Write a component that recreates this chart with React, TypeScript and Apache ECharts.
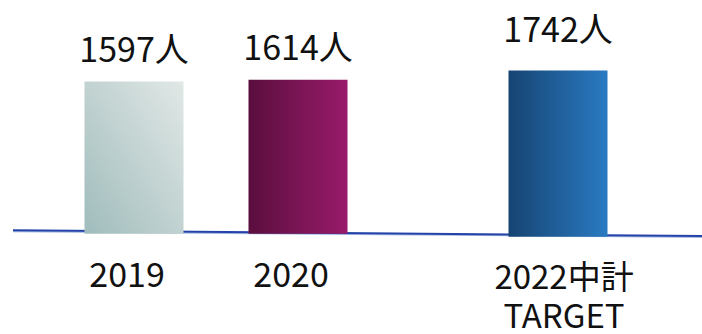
import React, { useEffect, useRef } from "react";
import * as echarts from "echarts";

const actualCategories = ["2019", "2020"];
const actualValues = [1597, 1614];
const targetCategories = ["2022中計\nTARGET"];
const targetValues = [1742];
const unit = "人";

const FONT = '"Noto Sans CJK JP", "Noto Sans", sans-serif';

export default function App() {
  const ref = useRef<HTMLDivElement>(null);
  useEffect(() => {
    if (!ref.current) return;
    const chart = echarts.init(ref.current, null, { renderer: "svg" });
    const labelCommon = {
      show: true,
      position: "top",
      fontFamily: FONT,
      fontSize: 34,
      lineHeight: 34,
      color: "#111",
      formatter: (p: any) => `${p.value}${unit}`,
    };
    const yCommon = { type: "value", min: 0, max: 2000, show: false };
    chart.setOption({
      animation: false,
      backgroundColor: "#ffffff",
      grid: [
        { left: 52, width: 328, top: 43, bottom: 100.3 },
        { left: 476, width: 164, top: 46, bottom: 97.3 },
      ],
      xAxis: [
        {
          type: "category",
          gridIndex: 0,
          data: actualCategories,
          axisLine: { show: false },
          axisTick: { show: false },
          axisLabel: {
            fontFamily: FONT,
            fontSize: 34,
            lineHeight: 34,
            color: "#111",
            margin: 22,
            padding: [0, 14, 0, 0],
          },
        },
        {
          type: "category",
          gridIndex: 1,
          data: targetCategories,
          axisLine: { show: false },
          axisTick: { show: false },
          axisLabel: {
            fontFamily: FONT,
            fontSize: 33,
            lineHeight: 39,
            color: "#111",
            margin: 19,
            padding: [0, 0, 0, 12],
          },
        },
      ],
      yAxis: [
        { ...yCommon, gridIndex: 0 },
        { ...yCommon, gridIndex: 1 },
      ],
      graphic: [
        {
          type: "line",
          z: 0,
          shape: { x1: 13, y1: 231.5, x2: 702, y2: 237.2 },
          style: { stroke: "#a6b8e2", lineWidth: 1.5 },
        },
        {
          type: "line",
          z: 0,
          shape: { x1: 13, y1: 230.3, x2: 702, y2: 236 },
          style: { stroke: "#2443a8", lineWidth: 2 },
        },
      ],
      series: [
        {
          type: "bar",
          xAxisIndex: 0,
          yAxisIndex: 0,
          barWidth: 99,
          z: 5,
          label: { ...labelCommon, distance: 17 },
          data: actualValues.map((v, i) => ({
            value: v,
            itemStyle: {
              color:
                i === 0
                  ? new echarts.graphic.LinearGradient(0, 1, 1, 0, [
                      { offset: 0, color: "#a0bcbc" },
                      { offset: 1, color: "#e1e8e6" },
                    ])
                  : new echarts.graphic.LinearGradient(0, 0, 1, 0, [
                      { offset: 0, color: "#5a0e3e" },
                      { offset: 1, color: "#991b6a" },
                    ]),
            },
          })),
        },
        {
          type: "bar",
          xAxisIndex: 1,
          yAxisIndex: 1,
          barWidth: 99,
          z: 5,
          label: { ...labelCommon, distance: 26 },
          itemStyle: {
            color: new echarts.graphic.LinearGradient(0, 0, 1, 0, [
              { offset: 0, color: "#164472" },
              { offset: 1, color: "#2a7ac2" },
            ]),
          },
          data: targetValues,
        },
      ],
    });
    return () => chart.dispose();
  }, []);
  return (
    <div
      ref={ref}
      style={{ position: "fixed", left: 0, top: 0, width: 702, height: 334 }}
    />
  );
}
